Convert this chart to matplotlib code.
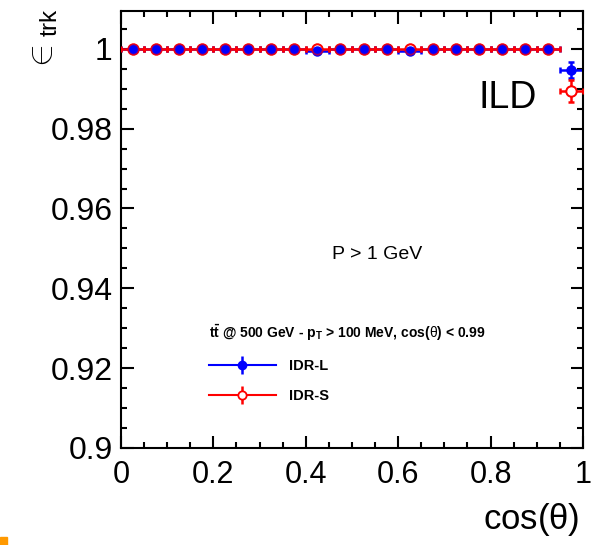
import numpy as np
import matplotlib.pyplot as plt
from matplotlib.ticker import MultipleLocator
from matplotlib.lines import Line2D
import matplotlib.patches as mpatches

plt.rcParams['font.family'] = ['Liberation Sans', 'DejaVu Sans']
plt.rcParams['mathtext.fontset'] = 'custom'
plt.rcParams['mathtext.rm'] = 'Liberation Sans'
plt.rcParams['mathtext.it'] = 'Liberation Sans'
plt.rcParams['mathtext.bf'] = 'Liberation Sans:bold'

# bin centres of cos(theta), width 0.05
cos_theta = [0.025, 0.075, 0.125, 0.175, 0.225, 0.275, 0.325, 0.375, 0.425, 0.475,
             0.525, 0.575, 0.625, 0.675, 0.725, 0.775, 0.825, 0.875, 0.925, 0.975]
bin_half = [0.025] * 20

# tracking efficiency
eff_idr_l = [1.0, 1.0, 1.0, 1.0, 1.0, 1.0, 1.0, 1.0, 0.9994, 1.0,
             1.0, 1.0, 0.9995, 1.0, 1.0, 1.0, 1.0, 1.0, 1.0, 0.9948]
err_idr_l = [0.0001, 0.0001, 0.0001, 0.0001, 0.0001, 0.0001, 0.0001, 0.0001, 0.0003, 0.0001,
             0.0001, 0.0001, 0.0002, 0.0001, 0.0001, 0.0001, 0.0001, 0.0001, 0.0001, 0.002]
eff_idr_s = [1.0, 1.0, 1.0, 1.0, 1.0, 1.0, 1.0, 1.0, 1.0, 1.0,
             1.0, 1.0, 1.0, 1.0, 1.0, 1.0, 1.0, 1.0, 1.0, 0.9895]
err_idr_s = [0.0001, 0.0001, 0.0001, 0.0001, 0.0001, 0.0001, 0.0001, 0.0001, 0.0001, 0.0001,
             0.0001, 0.0001, 0.0001, 0.0001, 0.0001, 0.0001, 0.0001, 0.0001, 0.0001, 0.0028]

blue = '#0000ff'
red = '#ff0000'

fig = plt.figure(figsize=(6.05, 5.45), dpi=100)
ax = fig.add_axes([0.2, 0.178, 0.7636, 0.802])

# error bars: blue under red, markers on top (ROOT-like look)
ax.errorbar(cos_theta, eff_idr_l, xerr=bin_half, yerr=err_idr_l, fmt='none', ecolor=blue,
            lw=1.8, capsize=2, capthick=1.8, zorder=2)
ax.errorbar(cos_theta, eff_idr_s, xerr=bin_half, yerr=err_idr_s, fmt='none', ecolor=red,
            lw=1.8, capsize=2, capthick=1.8, zorder=3)
ax.plot(cos_theta, eff_idr_s, 'o', ms=7.5, mfc='white', mec=red, mew=1.3, zorder=4)
ax.plot(cos_theta, eff_idr_l, 'o', ms=6.5, mfc=blue, mec=blue, zorder=5)
ax.plot(cos_theta, eff_idr_s, 'o', ms=7.5, mfc='none', mec=red, mew=1.3, alpha=0.6, zorder=6)

ax.set_xlim(0, 1)
ax.set_ylim(0.9, 1.0095)
ax.xaxis.set_minor_locator(MultipleLocator(0.05))
ax.yaxis.set_minor_locator(MultipleLocator(0.005))
ax.set_xticks([0, 0.2, 0.4, 0.6, 0.8, 1.0])
ax.set_xticklabels(['0', '0.2', '0.4', '0.6', '0.8', '1'])
ax.set_yticks([0.9, 0.92, 0.94, 0.96, 0.98, 1.0])
ax.set_yticklabels(['0.9', '0.92', '0.94', '0.96', '0.98', '1'])
ax.tick_params(which='both', direction='in', top=True, right=True, width=1.5)
ax.tick_params(which='major', length=9)
ax.tick_params(which='minor', length=4.5)
ax.tick_params(axis='x', labelsize=22, pad=9)
ax.tick_params(axis='y', labelsize=23, pad=6)
for s in ax.spines.values():
    s.set_linewidth(1.5)

fig.text(0.958, 0.012, r'cos($\theta$)', fontsize=25, ha='right', va='bottom')
fig.text(0.072, 0.985, r'$\in_{\mathrm{trk}}$', fontsize=25, rotation=90, ha='center', va='top')

ax.text(0.90, 0.80, 'ILD', fontsize=27, ha='right', va='center', transform=ax.transAxes)
ax.text(0.554, 0.442, 'P > 1 GeV', fontsize=14, ha='center', va='center', transform=ax.transAxes)

# legend
h_l = (Line2D([], [], color=blue, lw=1.5), Line2D([], [], ls='none', marker='|', ms=13, mew=1.8, color=blue),
       Line2D([], [], ls='none', marker='o', ms=6, color=blue))
h_s = (Line2D([], [], color=red, lw=1.5), Line2D([], [], ls='none', marker='|', ms=13, mew=1.8, color=red),
       Line2D([], [], ls='none', marker='o', ms=6, mfc='white', mec=red, mew=1.3))
leg = ax.legend([h_l, h_s], ['IDR-L', 'IDR-S'], loc='upper left', bbox_to_anchor=(0.19, 0.286),
                frameon=False, fontsize=10.5, handlelength=4.6, handletextpad=0.9, labelspacing=1.1,
                borderpad=0, borderaxespad=0,
                title=r'$\mathbf{t\bar{t}}$ @ 500 GeV - p$_\mathbf{T}$ > 100 MeV, cos($\theta$) < 0.99',
                title_fontsize=10, alignment='left')
leg.get_title().set_fontweight('bold')
for t in leg.get_texts():
    t.set_fontweight('bold')

fig.patches.append(mpatches.Rectangle((0, 0), 0.012, 0.015, transform=fig.transFigure,
                                      color='#ff9900', zorder=10))

plt.savefig('out.png', dpi=100)
